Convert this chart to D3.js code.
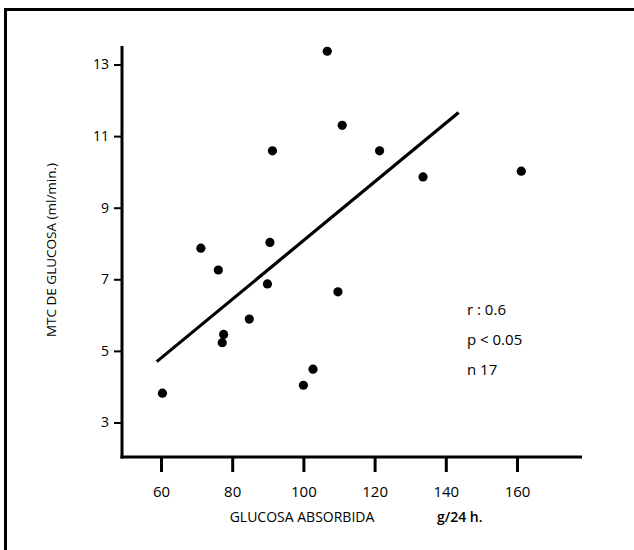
<!DOCTYPE html>
<html lang="es">
<head>
<meta charset="UTF-8">
<title>MTC de glucosa vs glucosa absorbida</title>
<script src="https://d3js.org/d3.v7.min.js"></script>
<style>
    body { margin: 0; background: #fff; }
    svg { display: block; }
    text { font-family: "Open Sans", "DejaVu Sans", sans-serif; fill: #000; }
</style>
</head>
<body>
<svg id="chart" width="634" height="550"></svg>
<script>
// glucosa absorbida (g/24 h) and MTC de glucosa (ml/min)
const absorbida = [60.4, 71.2, 76.1, 90.6, 89.9, 84.8, 77.6, 77.2, 109.7, 102.7, 100.0, 106.7, 110.9, 91.3, 121.4, 133.6, 161.2];
const mtc       = [3.82, 7.87, 7.26, 8.03, 6.87, 5.89, 5.46, 5.23, 6.65, 4.49, 4.04, 13.37, 11.30, 10.59, 10.59, 9.86, 10.02];

// regression line ends
const fitX = [58.8, 143.6];
const fitY = [4.70, 11.66];

const xTicks = [60, 80, 100, 120, 140, 160];
const yTicks = [3, 5, 7, 9, 11, 13];
const stats = ["r : 0.6", "p < 0.05", "n 17"];

const svg = d3.select("#chart");

// frame (only top and left edges show in the scan)
svg.append("path")
    .attr("d", "M5.5,550 V9.5 H634")
    .attr("fill", "none").attr("stroke", "#000").attr("stroke-width", 3);

const x = d3.scaleLinear().domain([60, 160]).range([161, 517]);
const y = d3.scaleLinear().domain([3, 13]).range([422.5, 64.5]);

const axisX0 = 122, axisY0 = 457;

// y axis
svg.append("line")
    .attr("x1", axisX0).attr("x2", axisX0).attr("y1", 46).attr("y2", axisY0 + 1.5)
    .attr("stroke", "#000").attr("stroke-width", 3);
const yAx = svg.append("g").attr("transform", `translate(${axisX0},0)`)
    .call(d3.axisLeft(y).tickValues(yTicks).tickSize(8).tickPadding(5).tickFormat(d3.format("d")));
yAx.select(".domain").remove();
yAx.selectAll(".tick line").attr("stroke", "#000").attr("stroke-width", 2);
yAx.selectAll(".tick text").attr("font-size", 14).attr("font-family", "Open Sans, sans-serif").attr("fill", "#000");

// x axis
svg.append("line")
    .attr("x1", axisX0 - 1.5).attr("x2", 582).attr("y1", axisY0).attr("y2", axisY0)
    .attr("stroke", "#000").attr("stroke-width", 3);
const xAx = svg.append("g").attr("transform", `translate(0,${axisY0})`)
    .call(d3.axisBottom(x).tickValues(xTicks).tickSize(15).tickPadding(14).tickFormat(d3.format("d")));
xAx.select(".domain").remove();
xAx.selectAll(".tick line").attr("stroke", "#000").attr("stroke-width", 3);
xAx.selectAll(".tick text").attr("font-size", 15).attr("font-family", "Open Sans, sans-serif").attr("fill", "#000");

// axis titles
svg.append("text")
    .attr("x", 302).attr("y", 522).attr("text-anchor", "middle")
    .attr("font-size", 14)
    .text("GLUCOSA ABSORBIDA");
svg.append("text")
    .attr("x", 437).attr("y", 522)
    .attr("font-size", 14).attr("font-weight", 600)
    .text("g/24 h.");
svg.append("text")
    .attr("transform", "translate(56,250) rotate(-90)")
    .attr("text-anchor", "middle")
    .attr("font-size", 13.5)
    .text("MTC DE GLUCOSA (ml/min.)");

// regression line
svg.append("line")
    .attr("x1", x(fitX[0])).attr("y1", y(fitY[0]))
    .attr("x2", x(fitX[1])).attr("y2", y(fitY[1]))
    .attr("stroke", "#000").attr("stroke-width", 3.2);

// points
svg.append("g").selectAll("circle")
    .data(absorbida)
    .join("circle")
    .attr("cx", d => x(d))
    .attr("cy", (d, i) => y(mtc[i]))
    .attr("r", 4.6)
    .attr("fill", "#000");

// stats
svg.append("g").selectAll("text")
    .data(stats)
    .join("text")
    .attr("x", 467)
    .attr("y", (d, i) => 315 + i * 30)
    .attr("font-size", 15)
    .text(d => d);
</script>
</body>
</html>
